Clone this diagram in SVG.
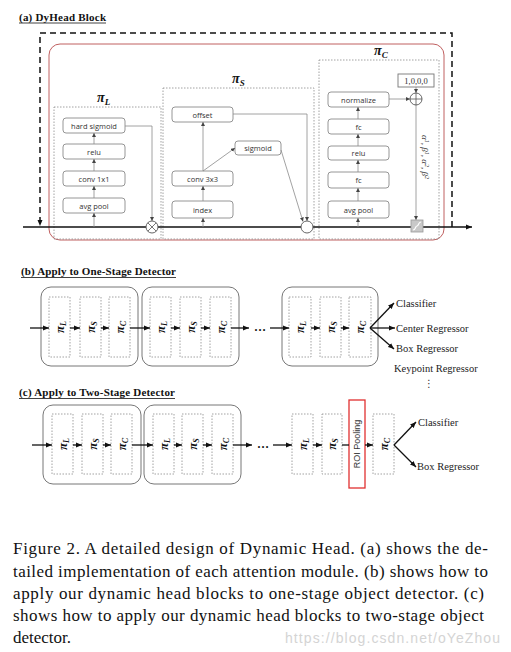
<svg xmlns="http://www.w3.org/2000/svg" width="511" height="652" viewBox="0 0 511 652">
<style>
.title{font-family:"Liberation Serif",serif;font-weight:bold;font-size:11px;fill:#111}
.box{fill:#fff;stroke:#8a8a8a;stroke-width:0.9}
.bt{font-family:"Open Sans","Liberation Sans",sans-serif;font-size:7.5px;fill:#333;text-anchor:middle}
.dot{fill:none;stroke:#8a8a8a;stroke-width:0.8;stroke-dasharray:1.5 1.5}
.pi{font-family:"Liberation Serif",serif;font-weight:bold;font-style:italic;fill:#111}
.gl{fill:none;stroke:#8a8a8a;stroke-width:0.8}
.bl{fill:none;stroke:#111;stroke-width:1.3}
.blk{fill:#fff;stroke:#777;stroke-width:1}
.lab{font-family:"Liberation Serif",serif;font-size:10.5px;fill:#222}
.cap{font-family:"Liberation Serif",serif;font-size:17px;fill:#111}
</style>
<defs>
<marker id="ga" markerUnits="userSpaceOnUse" markerWidth="4" markerHeight="4" refX="4" refY="2" orient="auto"><path d="M0,0 L4,2 L0,4 z" fill="#444"/></marker>
<marker id="ba" markerUnits="userSpaceOnUse" markerWidth="6" markerHeight="6" refX="6" refY="3" orient="auto"><path d="M0,0.5 L6,3 L0,5.5 z" fill="#111"/></marker>
</defs>

<!-- (a) -->
<g id="title-a"><text class="title" x="19" y="21" textLength="87">(a) DyHead Block</text><line x1="19" y1="23" x2="106" y2="23" stroke="#111" stroke-width="0.8"/></g>
<g id="dyhead-outer"><path d="M452,227 L452,33 L40,33 L40,226" fill="none" stroke="#111" stroke-width="1.5" stroke-dasharray="6 4" marker-end="url(#ba)"/></g>
<g id="dyhead-red"><rect x="49" y="44" width="395" height="196" rx="11" fill="none" stroke="#c06060" stroke-width="1"/></g>

<g id="piL">
<rect class="dot" x="54" y="107" width="107" height="132"/>
<text class="pi" x="97" y="102" font-size="14">π<tspan font-size="9" dy="3">L</tspan></text>
</g>
<g id="piS">
<rect class="dot" x="163" y="88" width="151" height="151"/>
<text class="pi" x="232" y="83" font-size="14">π<tspan font-size="9" dy="3">S</tspan></text>
</g>
<g id="piC">
<rect class="dot" x="319" y="60" width="120" height="179"/>
<text class="pi" x="374" y="55" font-size="14">π<tspan font-size="9" dy="3">C</tspan></text>
</g>

<g id="L-hardsig"><rect class="box" x="63" y="118" width="62" height="15" rx="3"/><text class="bt" x="94" y="128.5">hard sigmoid</text></g>
<g id="L-relu"><rect class="box" x="63" y="144" width="62" height="15" rx="3"/><text class="bt" x="94" y="154.5">relu</text></g>
<g id="L-conv"><rect class="box" x="63" y="171" width="62" height="15" rx="3"/><text class="bt" x="94" y="181.5">conv 1x1</text></g>
<g id="L-avg"><rect class="box" x="63" y="198" width="62" height="15" rx="3"/><text class="bt" x="94" y="208.5">avg pool</text></g>

<g id="S-offset"><rect class="box" x="172" y="107" width="61" height="15" rx="3"/><text class="bt" x="202.5" y="117.5">offset</text></g>
<g id="S-sigmoid"><rect class="box" x="235" y="141" width="46" height="14" rx="3"/><text class="bt" x="258" y="150.5">sigmoid</text></g>
<g id="S-conv"><rect class="box" x="172" y="171" width="61" height="15" rx="3"/><text class="bt" x="202.5" y="181.5">conv 3x3</text></g>
<g id="S-index"><rect class="box" x="172" y="201" width="61" height="17" rx="3"/><text class="bt" x="202.5" y="212.5">index</text></g>

<g id="C-norm"><rect class="box" x="328" y="92" width="61" height="15" rx="3"/><text class="bt" x="358.5" y="102.5">normalize</text></g>
<g id="C-fc2"><rect class="box" x="328" y="119" width="61" height="15" rx="3"/><text class="bt" x="358.5" y="129.5">fc</text></g>
<g id="C-relu"><rect class="box" x="328" y="146" width="61" height="14" rx="3"/><text class="bt" x="358.5" y="156">relu</text></g>
<g id="C-fc1"><rect class="box" x="328" y="172" width="61" height="16" rx="3"/><text class="bt" x="358.5" y="183">fc</text></g>
<g id="C-avg"><rect class="box" x="328" y="201" width="61" height="17" rx="3"/><text class="bt" x="358.5" y="212.5">avg pool</text></g>
<g id="C-init"><rect x="398" y="74" width="36" height="13" fill="#fff" stroke="#777" stroke-width="0.9"/><text x="416" y="83.5" text-anchor="middle" font-family="Liberation Serif,serif" font-size="8.5" fill="#333">1,0,0,0</text></g>
<g id="C-params"><text transform="translate(422,157) rotate(90)" text-anchor="middle" font-family="Liberation Serif,serif" font-style="italic" font-size="9" fill="#333">α<tspan font-size="6" dy="-3">1</tspan><tspan dy="3">, β</tspan><tspan font-size="6" dy="-3">1</tspan><tspan dy="3">, α</tspan><tspan font-size="6" dy="-3">2</tspan><tspan dy="3">, β</tspan><tspan font-size="6" dy="-3">2</tspan></text></g>

<g id="connectors-a">
<line x1="23" y1="227" x2="472" y2="227" stroke="#111" stroke-width="1.5" marker-end="url(#ba)"/>
<line class="gl" x1="94" y1="227" x2="94" y2="213" marker-end="url(#ga)"/>
<line class="gl" x1="94" y1="198" x2="94" y2="186" marker-end="url(#ga)"/>
<line class="gl" x1="94" y1="171" x2="94" y2="159" marker-end="url(#ga)"/>
<line class="gl" x1="94" y1="144" x2="94" y2="133" marker-end="url(#ga)"/>
<path class="gl" d="M125,126 L152,126 L152,221" marker-end="url(#ga)"/>
<line class="gl" x1="203" y1="227" x2="203" y2="218" marker-end="url(#ga)"/>
<line class="gl" x1="203" y1="201" x2="203" y2="186" marker-end="url(#ga)"/>
<line class="gl" x1="203" y1="171" x2="203" y2="122" marker-end="url(#ga)"/>
<line class="gl" x1="203" y1="171" x2="235" y2="148" marker-end="url(#ga)"/>
<path class="gl" d="M233,114 L307,114 L307,221" marker-end="url(#ga)"/>
<line class="gl" x1="281" y1="150" x2="303" y2="221.5" marker-end="url(#ga)"/>
<line class="gl" x1="358" y1="227" x2="358" y2="218" marker-end="url(#ga)"/>
<line class="gl" x1="358" y1="201" x2="358" y2="188" marker-end="url(#ga)"/>
<line class="gl" x1="358" y1="172" x2="358" y2="160" marker-end="url(#ga)"/>
<line class="gl" x1="358" y1="146" x2="358" y2="134" marker-end="url(#ga)"/>
<line class="gl" x1="358" y1="119" x2="358" y2="107" marker-end="url(#ga)"/>
<line class="gl" x1="389" y1="99" x2="410" y2="99" marker-end="url(#ga)"/>
<line class="gl" x1="416" y1="87" x2="416" y2="93" marker-end="url(#ga)"/>
<line class="gl" x1="416" y1="105" x2="416" y2="220" marker-end="url(#ga)"/>
</g>

<g id="op-mul"><circle cx="152" cy="227" r="6" fill="#fff" stroke="#555" stroke-width="0.9"/><path d="M147.8,222.8 L156.2,231.2 M156.2,222.8 L147.8,231.2" stroke="#555" stroke-width="0.8"/></g>
<g id="op-s"><circle cx="307" cy="227" r="6" fill="#fff" stroke="#555" stroke-width="0.9"/></g>
<g id="op-add"><circle cx="416" cy="99" r="6" fill="#fff" stroke="#555" stroke-width="0.9"/><path d="M410,99 L422,99 M416,93 L416,105" stroke="#555" stroke-width="0.8"/></g>
<g id="op-act"><rect x="411" y="220" width="12" height="12" fill="#c8c8c8" stroke="#999" stroke-width="0.8"/><path d="M413,230 C416,230 415,226 417,226 C419,226 418,222 421,222" fill="none" stroke="#fff" stroke-width="1.2"/></g>

<!-- (b) -->
<g id="title-b"><text class="title" x="21" y="275" textLength="155">(b) Apply to One-Stage Detector</text><line x1="21" y1="277.5" x2="176" y2="277.5" stroke="#111" stroke-width="0.8"/></g>
<g id="b-block1"><rect class="blk" x="41" y="287" width="97" height="79" rx="10"/>
<rect class="dot" x="49" y="297" width="21" height="60"/><rect class="dot" x="80" y="297" width="21" height="60"/><rect class="dot" x="109" y="297" width="21" height="60"/>
<text class="pi" font-size="13" transform="translate(59.5,327) rotate(-90)" y="4" text-anchor="middle">π<tspan font-size="8" dy="2">L</tspan></text>
<text class="pi" font-size="13" transform="translate(90.5,327) rotate(-90)" y="4" text-anchor="middle">π<tspan font-size="8" dy="2">S</tspan></text>
<text class="pi" font-size="13" transform="translate(119.5,327) rotate(-90)" y="4" text-anchor="middle">π<tspan font-size="8" dy="2">C</tspan></text></g>
<g id="b-block2"><rect class="blk" x="142" y="287" width="97" height="79" rx="10"/>
<rect class="dot" x="150" y="297" width="21" height="60"/><rect class="dot" x="180" y="297" width="21" height="60"/><rect class="dot" x="210" y="297" width="21" height="60"/>
<text class="pi" font-size="13" transform="translate(160.5,327) rotate(-90)" y="4" text-anchor="middle">π<tspan font-size="8" dy="2">L</tspan></text>
<text class="pi" font-size="13" transform="translate(190.5,327) rotate(-90)" y="4" text-anchor="middle">π<tspan font-size="8" dy="2">S</tspan></text>
<text class="pi" font-size="13" transform="translate(220.5,327) rotate(-90)" y="4" text-anchor="middle">π<tspan font-size="8" dy="2">C</tspan></text></g>
<g id="b-block3"><rect class="blk" x="282" y="287" width="96" height="79" rx="10"/>
<rect class="dot" x="289" y="297" width="22" height="60"/><rect class="dot" x="320" y="297" width="21" height="60"/><rect class="dot" x="349" y="297" width="22" height="60"/>
<text class="pi" font-size="13" transform="translate(300,327) rotate(-90)" y="4" text-anchor="middle">π<tspan font-size="8" dy="2">L</tspan></text>
<text class="pi" font-size="13" transform="translate(330.5,327) rotate(-90)" y="4" text-anchor="middle">π<tspan font-size="8" dy="2">S</tspan></text>
<text class="pi" font-size="13" transform="translate(360,327) rotate(-90)" y="4" text-anchor="middle">π<tspan font-size="8" dy="2">C</tspan></text></g>
<g id="b-dots"><text x="260" y="331" text-anchor="middle" font-family="Liberation Serif,serif" font-weight="bold" font-size="12" fill="#111">…</text></g>
<g id="b-outputs">
<text class="lab" x="396" y="307">Classifier</text>
<text class="lab" x="396" y="331.5">Center Regressor</text>
<text class="lab" x="396" y="352">Box Regressor</text>
<text class="lab" x="394" y="372">Keypoint Regressor</text>
<text x="429" y="387" text-anchor="middle" font-family="DejaVu Sans,sans-serif" font-size="10" fill="#333">⋮</text>
</g>
<g id="connectors-b">
<line class="bl" x1="30" y1="328" x2="49" y2="328" marker-end="url(#ba)"/>
<line class="bl" x1="70" y1="328" x2="80" y2="328" marker-end="url(#ba)"/>
<line class="bl" x1="101" y1="328" x2="109" y2="328" marker-end="url(#ba)"/>
<line class="bl" x1="130" y1="328" x2="150" y2="328" marker-end="url(#ba)"/>
<line class="bl" x1="171" y1="328" x2="180" y2="328" marker-end="url(#ba)"/>
<line class="bl" x1="201" y1="328" x2="210" y2="328" marker-end="url(#ba)"/>
<line class="bl" x1="231" y1="328" x2="249" y2="328" marker-end="url(#ba)"/>
<line class="bl" x1="270" y1="328" x2="289" y2="328" marker-end="url(#ba)"/>
<line class="bl" x1="311" y1="328" x2="320" y2="328" marker-end="url(#ba)"/>
<line class="bl" x1="341" y1="328" x2="349" y2="328" marker-end="url(#ba)"/>
<line class="bl" x1="370" y1="328" x2="394" y2="303" marker-end="url(#ba)"/>
<line class="bl" x1="370" y1="328" x2="395" y2="328" marker-end="url(#ba)"/>
<line class="bl" x1="370" y1="328" x2="394" y2="349" marker-end="url(#ba)"/>
</g>

<!-- (c) -->
<g id="title-c"><text class="title" x="19" y="396" textLength="156">(c) Apply to Two-Stage Detector</text><line x1="19" y1="398.5" x2="175" y2="398.5" stroke="#111" stroke-width="0.8"/></g>
<g id="c-block1"><rect class="blk" x="43" y="405" width="98" height="79" rx="10"/>
<rect class="dot" x="52" y="414" width="21" height="60"/><rect class="dot" x="82" y="414" width="21" height="60"/><rect class="dot" x="111" y="414" width="21" height="60"/>
<text class="pi" font-size="13" transform="translate(62.5,444) rotate(-90)" y="4" text-anchor="middle">π<tspan font-size="8" dy="2">L</tspan></text>
<text class="pi" font-size="13" transform="translate(92.5,444) rotate(-90)" y="4" text-anchor="middle">π<tspan font-size="8" dy="2">S</tspan></text>
<text class="pi" font-size="13" transform="translate(121.5,444) rotate(-90)" y="4" text-anchor="middle">π<tspan font-size="8" dy="2">C</tspan></text></g>
<g id="c-block2"><rect class="blk" x="144" y="405" width="97" height="79" rx="10"/>
<rect class="dot" x="153" y="414" width="21" height="60"/><rect class="dot" x="182" y="414" width="21" height="60"/><rect class="dot" x="212" y="414" width="21" height="60"/>
<text class="pi" font-size="13" transform="translate(163.5,444) rotate(-90)" y="4" text-anchor="middle">π<tspan font-size="8" dy="2">L</tspan></text>
<text class="pi" font-size="13" transform="translate(192.5,444) rotate(-90)" y="4" text-anchor="middle">π<tspan font-size="8" dy="2">S</tspan></text>
<text class="pi" font-size="13" transform="translate(222.5,444) rotate(-90)" y="4" text-anchor="middle">π<tspan font-size="8" dy="2">C</tspan></text></g>
<g id="c-piL"><rect class="dot" x="292" y="414" width="21" height="60"/><text class="pi" font-size="13" transform="translate(302.5,444) rotate(-90)" y="4" text-anchor="middle">π<tspan font-size="8" dy="2">L</tspan></text></g>
<g id="c-piS"><rect class="dot" x="322" y="414" width="20" height="60"/><text class="pi" font-size="13" transform="translate(332,444) rotate(-90)" y="4" text-anchor="middle">π<tspan font-size="8" dy="2">S</tspan></text></g>
<g id="c-roi"><rect x="349" y="400" width="16" height="88" fill="#fff" stroke="#e03030" stroke-width="1.3"/><text transform="translate(357,444) rotate(-90)" y="3" text-anchor="middle" font-family="Liberation Sans,sans-serif" font-size="9" fill="#333">ROI Pooling</text></g>
<g id="c-piC"><rect class="dot" x="373" y="414" width="21" height="60"/><text class="pi" font-size="13" transform="translate(383.5,444) rotate(-90)" y="4" text-anchor="middle">π<tspan font-size="8" dy="2">C</tspan></text></g>
<g id="c-dots"><text x="263" y="448" text-anchor="middle" font-family="Liberation Serif,serif" font-weight="bold" font-size="12" fill="#111">…</text></g>
<g id="c-outputs">
<text class="lab" x="418" y="425.5">Classifier</text>
<text class="lab" x="417" y="469.5">Box Regressor</text>
</g>
<g id="connectors-c">
<line class="bl" x1="32" y1="445" x2="52" y2="445" marker-end="url(#ba)"/>
<line class="bl" x1="73" y1="445" x2="82" y2="445" marker-end="url(#ba)"/>
<line class="bl" x1="103" y1="445" x2="111" y2="445" marker-end="url(#ba)"/>
<line class="bl" x1="132" y1="445" x2="153" y2="445" marker-end="url(#ba)"/>
<line class="bl" x1="174" y1="445" x2="182" y2="445" marker-end="url(#ba)"/>
<line class="bl" x1="203" y1="445" x2="212" y2="445" marker-end="url(#ba)"/>
<line class="bl" x1="233" y1="445" x2="252" y2="445" marker-end="url(#ba)"/>
<line class="bl" x1="273" y1="445" x2="292" y2="445" marker-end="url(#ba)"/>
<line class="bl" x1="313" y1="445" x2="322" y2="445" marker-end="url(#ba)"/>
<line class="bl" x1="342" y1="445" x2="349" y2="445"/>
<line class="bl" x1="365" y1="445" x2="373" y2="445" marker-end="url(#ba)"/>
<line class="bl" x1="394" y1="445" x2="416" y2="422" marker-end="url(#ba)"/>
<line class="bl" x1="394" y1="445" x2="416" y2="467" marker-end="url(#ba)"/>
</g>

<!-- caption -->
<g id="caption">
<text class="cap" x="13" y="554" textLength="475" lengthAdjust="spacing">Figure 2. A detailed design of Dynamic Head. (a) shows the de-</text>
<text class="cap" x="13" y="577" textLength="475" lengthAdjust="spacing">tailed implementation of each attention module. (b) shows how to</text>
<text class="cap" x="13" y="599" textLength="471" lengthAdjust="spacing">apply our dynamic head blocks to one-stage object detector. (c)</text>
<text class="cap" x="13" y="621" textLength="471" lengthAdjust="spacing">shows how to apply our dynamic head blocks to two-stage object</text>
<text class="cap" x="13" y="643">detector.</text>
<text x="285" y="643" textLength="215" font-family="Liberation Sans,sans-serif" font-size="14" fill="#d4d4d4">https://blog.csdn.net/oYeZhou</text>
</g>
</svg>
